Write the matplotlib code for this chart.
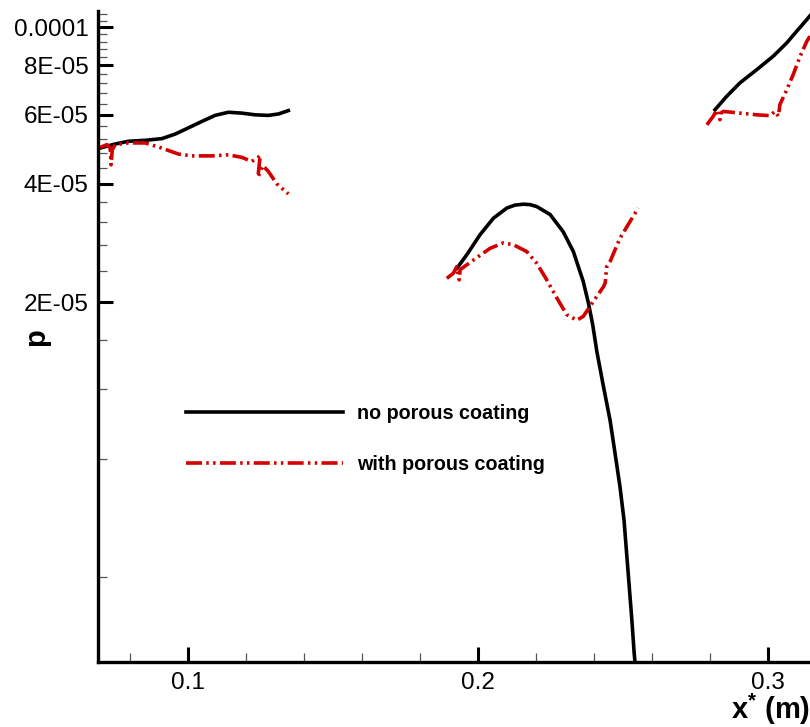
import matplotlib
matplotlib.use('Agg')
import matplotlib.pyplot as plt
from matplotlib.ticker import FixedLocator, FixedFormatter, NullFormatter

plt.rcParams['font.family'] = ['Liberation Sans', 'DejaVu Sans']
plt.rcParams['lines.scale_dashes'] = False
plt.rcParams['mathtext.default'] = 'regular'

# ---------------- data ----------------
# no porous coating (black, solid), three separate segments
nopc_x1 = [0.0695, 0.0747, 0.0793, 0.0851, 0.0908, 0.0954, 0.1000, 0.1046,
           0.1092, 0.1138, 0.1184, 0.1230, 0.1276, 0.1311, 0.1345]
nopc_y1 = [4.93e-5, 5.05e-5, 5.13e-5, 5.16e-5, 5.21e-5, 5.35e-5, 5.55e-5, 5.76e-5,
           5.97e-5, 6.08e-5, 6.05e-5, 5.99e-5, 5.97e-5, 6.02e-5, 6.14e-5]

nopc_x2 = [0.1927, 0.1961, 0.2007, 0.2053, 0.2099, 0.2127, 0.2156, 0.2180, 0.2203,
           0.2249, 0.2294, 0.2329, 0.2363, 0.2381, 0.2396, 0.2410, 0.2433, 0.2456,
           0.2473, 0.2490, 0.2504, 0.2513, 0.2522, 0.2531, 0.2539, 0.2545]
nopc_y2 = [2.44e-5, 2.64e-5, 2.97e-5, 3.27e-5, 3.47e-5, 3.53e-5, 3.55e-5, 3.54e-5, 3.50e-5,
           3.34e-5, 3.02e-5, 2.69e-5, 2.26e-5, 1.99e-5, 1.75e-5, 1.50e-5, 1.22e-5, 1.00e-5,
           8.25e-6, 6.79e-6, 5.58e-6, 4.59e-6, 3.78e-6, 3.11e-6, 2.56e-6, 2.30e-6]

nopc_x3 = [0.2818, 0.2858, 0.2904, 0.2962, 0.3019, 0.3066, 0.3100, 0.3135, 0.3146]
nopc_y3 = [6.17e-5, 6.67e-5, 7.22e-5, 7.80e-5, 8.44e-5, 9.13e-5, 9.77e-5, 1.046e-4, 1.07e-4]

# with porous coating (red, dash-dot-dot), three separate segments
pc_x1 = [0.0695, 0.0719, 0.0730, 0.0733, 0.0737, 0.0747, 0.0793, 0.0851,
         0.0908, 0.0966, 0.1012, 0.1081, 0.1138, 0.1184, 0.1219, 0.1242,
         0.1248, 0.1240, 0.1257, 0.1276, 0.1305, 0.1345]
pc_y1 = [4.95e-5, 5.03e-5, 4.93e-5, 4.47e-5, 4.88e-5, 5.03e-5, 5.08e-5, 5.08e-5,
         4.93e-5, 4.76e-5, 4.71e-5, 4.71e-5, 4.74e-5, 4.67e-5, 4.56e-5, 4.68e-5,
         4.73e-5, 4.16e-5, 4.45e-5, 4.30e-5, 4.00e-5, 3.77e-5]

pc_x2 = [0.1892, 0.1915, 0.1926, 0.1935, 0.1938, 0.1984, 0.2041, 0.2087,
         0.2122, 0.2168, 0.2203, 0.2237, 0.2272, 0.2306, 0.2341, 0.2363,
         0.2398, 0.2433, 0.2439, 0.2444, 0.2456, 0.2490, 0.2525, 0.2553]
pc_y2 = [2.30e-5, 2.37e-5, 2.46e-5, 2.28e-5, 2.42e-5, 2.56e-5, 2.74e-5, 2.83e-5,
         2.80e-5, 2.69e-5, 2.51e-5, 2.28e-5, 2.05e-5, 1.86e-5, 1.80e-5, 1.84e-5,
         2.01e-5, 2.19e-5, 2.24e-5, 2.46e-5, 2.54e-5, 2.91e-5, 3.21e-5, 3.47e-5]

pc_x3 = [0.2790, 0.2812, 0.2824, 0.2835, 0.2838, 0.2847, 0.2904, 0.2962,
         0.3008, 0.3025, 0.3037, 0.3042, 0.3066, 0.3088, 0.3112, 0.3135, 0.3146]
pc_y3 = [5.65e-5, 5.94e-5, 6.17e-5, 5.82e-5, 6.05e-5, 6.11e-5, 6.05e-5, 5.99e-5,
         5.96e-5, 6.11e-5, 5.94e-5, 6.36e-5, 6.94e-5, 7.58e-5, 8.44e-5, 9.21e-5, 9.49e-5]

labels = ['no porous coating', 'with porous coating']

y_major = [2e-5, 4e-5, 6e-5, 8e-5, 1e-4]
y_major_labels = ['2E-05', '4E-05', '6E-05', '8E-05', '0.0001']
y_minor = [4e-6, 8e-6, 1.2e-5, 1.6e-5, 2.4e-5, 2.8e-5, 3.2e-5, 3.6e-5,
           4.4e-5, 4.8e-5, 5.2e-5, 5.6e-5, 6.4e-5, 6.8e-5, 7.2e-5, 7.6e-5,
           8.4e-5, 8.8e-5, 9.2e-5, 9.6e-5, 1.04e-4, 1.08e-4]
x_major = [0.1, 0.2, 0.3]
x_major_labels = ['0.1', '0.2', '0.3']
x_minor = [0.08, 0.12, 0.14, 0.16, 0.18, 0.22, 0.24, 0.26, 0.28]

x_lim = (0.0689, 0.3146)
y_lim = (2.43e-6, 1.10e-4)

# ---------------- figure ----------------
RED = '#D20000'
DASH = (0, (11.5, 3.1, 1.8, 3.1, 1.8, 3.1))
LW = 2.6

fig = plt.figure(figsize=(8.1, 7.27), dpi=100)
ax = fig.add_axes([0.1214, 0.089, 1.0 - 0.1214, 0.9849 - 0.089])

ax.plot(nopc_x1, nopc_y1, color='black', lw=LW, label=labels[0])
ax.plot(nopc_x2, nopc_y2, color='black', lw=LW)
ax.plot(nopc_x3, nopc_y3, color='black', lw=LW)
ax.plot(pc_x1, pc_y1, color=RED, lw=LW, linestyle=DASH, label=labels[1])
ax.plot(pc_x2, pc_y2, color=RED, lw=LW, linestyle=DASH)
ax.plot(pc_x3, pc_y3, color=RED, lw=LW, linestyle=DASH)

ax.set_yscale('log')
ax.set_xlim(*x_lim)
ax.set_ylim(*y_lim)

ax.yaxis.set_major_locator(FixedLocator(y_major))
ax.yaxis.set_major_formatter(FixedFormatter(y_major_labels))
ax.yaxis.set_minor_locator(FixedLocator(y_minor))
ax.yaxis.set_minor_formatter(NullFormatter())
ax.xaxis.set_major_locator(FixedLocator(x_major))
ax.xaxis.set_major_formatter(FixedFormatter(x_major_labels))
ax.xaxis.set_minor_locator(FixedLocator(x_minor))
ax.xaxis.set_minor_formatter(NullFormatter())

for s in ['top', 'right']:
    ax.spines[s].set_visible(False)
for s in ['left', 'bottom']:
    ax.spines[s].set_linewidth(2.4)

ax.tick_params(which='major', direction='in', length=11, width=2.2,
               labelsize=17.5, pad=7)
ax.tick_params(which='minor', direction='in', length=6.5, width=0.9,
               color='#555555')

ax.set_ylabel('p', fontsize=21, fontweight='bold')
ax.yaxis.set_label_coords(-0.068, 0.5)
ax.set_xlabel('x$^{*}$ (m)', fontsize=21, fontweight='bold')
ax.xaxis.set_label_coords(1.0, -0.0875)
ax.xaxis.label.set_horizontalalignment('right')
ax.xaxis.label.set_verticalalignment('baseline')

leg = ax.legend(loc='center left', bbox_to_anchor=(185.7 / 810, 1 - 438.9 / 727),
                bbox_transform=fig.transFigure, frameon=False,
                handlelength=8.0, handletextpad=0.7, labelspacing=1.62,
                borderpad=0, borderaxespad=0,
                prop={'size': 14.2, 'weight': 'bold'})

fig.savefig('out.png', dpi=100)
